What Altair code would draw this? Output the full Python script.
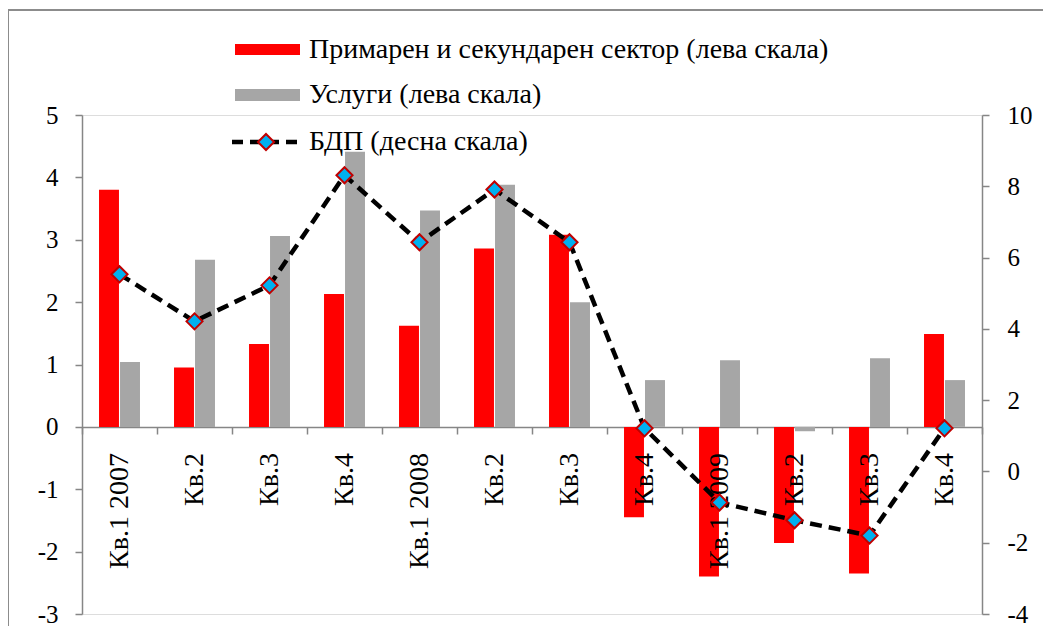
import json
import altair as alt
import pandas as pd

labels = ["Кв.1 2007", "Кв.2", "Кв.3", "Кв.4", "Кв.1 2008", "Кв.2", "Кв.3", "Кв.4",
          "Кв.1 2009", "Кв.2", "Кв.3", "Кв.4"]
primary = [3.80, 0.95, 1.33, 2.13, 1.62, 2.86, 3.08, -1.45, -2.40, -1.86, -2.35, 1.49]
services = [1.04, 2.68, 3.06, 4.41, 3.47, 3.88, 2.00, 0.75, 1.07, -0.07, 1.10, 0.75]
gdp = [5.53, 4.21, 5.22, 8.31, 6.43, 7.91, 6.43, 1.21, -0.87, -1.37, -1.80, 1.21]

s1 = "Примарен и секундарен сектор (лева скала)"
s2 = "Услуги (лева скала)"
s3 = "БДП (десна скала)"

keys = [f"{i:02d}" for i in range(len(labels))]
bars = pd.DataFrame(
    [{"k": k, "series": s1, "v": v} for k, v in zip(keys, primary)]
    + [{"k": k, "series": s2, "v": v} for k, v in zip(keys, services)]
)
line_df = pd.DataFrame({"k": keys, "gdp": gdp})
lab_df = pd.DataFrame({"k": keys, "lab": labels})

FONT = "Liberation Serif"
AX = "#868686"
W, H = 900, 499

xaxis = alt.Axis(labels=False, offset=-187, tickBand="extent", tickSize=7,
                 domainColor=AX, tickColor=AX, domainWidth=1.5, tickWidth=1.5)
xenc = alt.X("k:N", sort=keys, title=None,
             scale=alt.Scale(paddingInner=0, paddingOuter=0), axis=xaxis)

bar = alt.Chart(bars).mark_bar().encode(
    x=xenc,
    xOffset=alt.XOffset("series:N", sort=[s1, s2],
                        scale=alt.Scale(paddingInner=0.05, paddingOuter=0.81)),
    y=alt.Y("v:Q", title=None,
            scale=alt.Scale(domain=[-3, 5], nice=False, zero=False),
            axis=alt.Axis(values=list(range(-3, 6)), orient="left", grid=False,
                          labelExpr="toString(datum.value)",
                          tickSize=7, labelPadding=17, domainColor=AX, tickColor=AX,
                          domainWidth=1.5, tickWidth=1.5,
                          labelFont=FONT, labelFontSize=25, labelColor="black")),
    color=alt.Color("series:N", sort=[s1, s2],
                    scale=alt.Scale(domain=[s1, s2], range=["#FF0000", "#A6A6A6"]),
                    legend=None),
)

xlabels = alt.Chart(lab_df).mark_text(
    angle=270, align="right", baseline="middle", font=FONT, fontSize=28,
    color="black", clip=False
).encode(x=alt.X("k:N", sort=keys), y=alt.value(338), text="lab:N")

yr = alt.Y("gdp:Q", title=None,
           scale=alt.Scale(domain=[-4, 10], nice=False, zero=False),
           axis=alt.Axis(values=list(range(-4, 11, 2)), orient="right", grid=False,
                         labelExpr="toString(datum.value)",
                         tickSize=7, labelPadding=18, domainColor=AX, tickColor=AX,
                         domainWidth=1.5, tickWidth=1.5, labelAlign="left",
                         labelFont=FONT, labelFontSize=25, labelColor="black"))

line = alt.Chart(line_df).mark_line(color="black", strokeWidth=4.5,
                                    strokeDash=[12, 7]).encode(x=alt.X("k:N", sort=keys), y=yr)
pts = alt.Chart(line_df).mark_point(shape="diamond", filled=True, fill="#00B0F0",
                                    stroke="#C00000", strokeWidth=2, size=260,
                                    opacity=1).encode(x=alt.X("k:N", sort=keys), y=yr)

one = alt.Data(values=[{"a": 1}])
frame = alt.Chart(one).mark_rect(fill="transparent", stroke="#8C8C8C", strokeWidth=2,
                                 clip=False).encode(
    x=alt.value(-74), x2=alt.value(990), y=alt.value(-105), y2=alt.value(540))
leg_r = alt.Chart(one).mark_rect(color="#FF0000", clip=False).encode(
    x=alt.value(153), x2=alt.value(218), y=alt.value(-71), y2=alt.value(-60))
leg_g = alt.Chart(one).mark_rect(color="#A6A6A6", clip=False).encode(
    x=alt.value(153), x2=alt.value(218), y=alt.value(-26), y2=alt.value(-14))
leg_l = alt.Chart(one).mark_rule(color="black", strokeWidth=4.5, strokeDash=[11, 7],
                                 clip=False).encode(
    x=alt.value(150), x2=alt.value(218), y=alt.value(27))
leg_p = alt.Chart(one).mark_point(shape="diamond", filled=True, fill="#00B0F0",
                                  stroke="#C00000", strokeWidth=2, size=260, opacity=1,
                                  clip=False).encode(x=alt.value(184), y=alt.value(27))
leg_t = alt.Chart(pd.DataFrame({"t": [s1, s2, s3], "yy": [-65, -20, 27]})).mark_text(
    align="left", baseline="middle", font=FONT, fontSize=28, color="black", clip=False
).encode(x=alt.value(227), y=alt.Y("yy:Q", scale=None), text="t:N")

chart = alt.layer(
    alt.layer(frame, bar, xlabels).resolve_scale(y="independent"),
    alt.layer(line, pts),
    leg_r, leg_g, leg_l, leg_p, leg_t,
).resolve_scale(y="independent").properties(
    width=W, height=H,
    autosize=alt.AutoSizeParams(type="none"),
    padding={"left": 74, "top": 107, "right": 61, "bottom": 12},
).configure_view(stroke=None).configure(background="white", font=FONT)

chart.save("out.html", embed_options={"renderer": "svg", "actions": False})
